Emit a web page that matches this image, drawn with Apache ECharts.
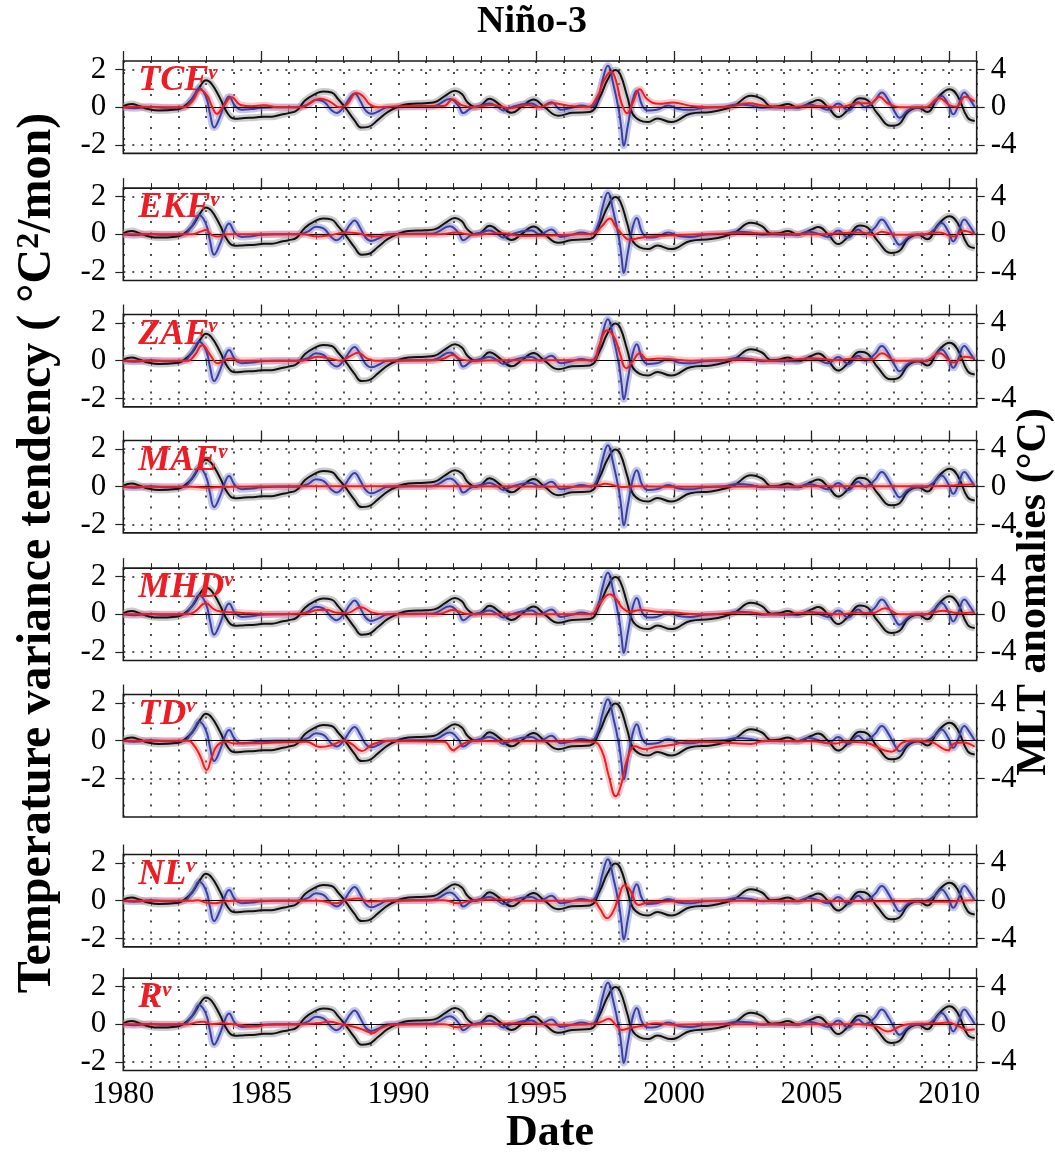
<!DOCTYPE html>
<html>
<head>
<meta charset="utf-8">
<script src="https://cdn.jsdelivr.net/npm/echarts@6/dist/echarts.min.js"></script>
<style>
html,body{margin:0;padding:0;background:#fff;}
#chart{width:1055px;height:1161px;}
</style>
</head>
<body>
<div id="chart"></div>
<script>
// ---- data ---------------------------------------------------------------
const panelNames = ['TCF', 'EKF', 'ZAF', 'MAE', 'MHD', 'TD', 'NL', 'R'];
const yearLabels = [1980, 1985, 1990, 1995, 2000, 2005, 2010];
const leftTicks = [-2, 0, 2];
const rightTicks = [-4, 0, 4];

// MLT temperature anomaly (°C, right axis) — [year, value]
const mltAnomaly = [
  [1980.0,0.1],[1980.3,0.35],[1980.6,0.1],[1980.9,-0.2],[1981.3,-0.35],[1981.9,-0.25],[1982.15,-0.05],
  [1982.5,0.87],[1982.8,2.26],[1983.0,2.85],[1983.2,2.5],[1983.5,1.04],[1983.8,-0.7],[1984.05,-1.22],
  [1984.4,-1.15],[1984.8,-1.1],[1985.1,-1.0],[1985.4,-1.0],[1985.75,-0.77],[1986.0,-0.63],[1986.3,-0.35],
  [1986.6,0.7],[1986.96,1.39],[1987.26,1.67],[1987.57,1.56],[1987.8,0.87],[1988.05,0.0],[1988.4,-1.39],
  [1988.65,-2.16],[1988.9,-2.09],[1989.26,-1.32],[1989.6,-0.52],[1990.0,0.07],[1990.35,0.35],[1990.96,0.42],
  [1991.3,0.52],[1991.7,1.22],[1992.05,1.74],[1992.3,1.39],[1992.5,0.52],[1992.8,0.0],[1993.0,0.2],
  [1993.3,0.9],[1993.7,0.2],[1994.1,-0.6],[1994.5,0.1],[1994.9,0.83],[1995.3,0.0],[1995.8,-0.9],
  [1996.3,-0.6],[1996.95,-0.5],[1997.3,1.0],[1997.6,2.96],[1997.87,3.95],[1998.05,3.5],[1998.3,1.2],
  [1998.5,-0.7],[1998.76,-1.39],[1999.06,-1.57],[1999.4,-1.2],[1999.9,-1.57],[2000.1,-1.45],[2000.6,-0.7],
  [2001.35,-0.5],[2001.85,-0.2],[2002.2,0.17],[2002.8,1.22],[2003.2,0.87],[2003.55,0.05],[2003.8,0.1],
  [2004.15,0.35],[2004.5,-0.05],[2005.0,0.52],[2005.25,0.77],[2005.6,0.0],[2005.97,-1.04],[2006.3,-0.35],
  [2006.76,0.94],[2007.05,0.7],[2007.4,-0.7],[2007.9,-1.98],[2008.2,-1.75],[2008.5,-0.5],[2008.87,-0.05],
  [2009.2,-0.52],[2009.6,1.04],[2010.02,1.91],[2010.3,1.22],[2010.67,-1.11],[2010.93,-1.46]
];

// total temperature variance tendency (°C²/mon, left axis)
const totalTendency = [
  [1980.0,0],[1980.4,-0.05],[1981.0,0.02],[1981.5,-0.03],[1982.2,0.0],[1982.45,0.35],[1982.6,0.7],
  [1982.75,1.02],[1982.9,0.85],[1983.05,0.35],[1983.15,-0.35],[1983.3,-1.08],[1983.5,-0.55],[1983.7,0.26],
  [1983.84,0.57],[1984.05,0.09],[1984.3,-0.14],[1984.66,-0.1],[1985.0,-0.03],[1985.5,0.0],[1986.3,0.0],
  [1986.7,0.14],[1987.0,0.4],[1987.27,0.31],[1987.57,-0.17],[1987.75,-0.31],[1988.0,0.0],[1988.24,0.52],
  [1988.4,0.73],[1988.6,0.35],[1988.8,-0.17],[1989.0,-0.35],[1989.3,-0.2],[1989.6,0.0],[1990.5,0.03],
  [1991.2,0.03],[1991.44,0.14],[1991.86,0.43],[1992.17,0.09],[1992.35,-0.31],[1992.65,-0.03],[1993.0,0.09],
  [1993.3,0.2],[1993.6,0.0],[1993.8,-0.17],[1994.05,-0.03],[1994.45,0.15],[1994.83,0.2],[1995.13,0.0],
  [1995.55,0.26],[1995.9,-0.14],[1996.28,-0.03],[1996.64,0.09],[1997.0,0.0],[1997.25,0.52],[1997.4,1.39],
  [1997.6,2.2],[1997.8,1.22],[1998.0,-0.17],[1998.1,-1.22],[1998.18,-2.05],[1998.32,-1.04],[1998.5,0.35],
  [1998.65,0.87],[1998.85,0.09],[1999.06,-0.17],[1999.37,-0.14],[1999.8,0.09],[2000.16,-0.09],[2000.6,-0.14],
  [2001.1,-0.03],[2001.85,0.03],[2002.3,0.14],[2002.8,0.09],[2003.2,-0.03],[2003.55,0.0],[2004.0,-0.03],
  [2004.45,-0.03],[2004.88,0.14],[2005.25,0.03],[2005.6,-0.14],[2005.97,0.2],[2006.33,-0.17],[2006.7,0.26],
  [2006.94,0.0],[2007.3,0.35],[2007.55,0.78],[2007.8,0.35],[2008.03,-0.26],[2008.2,-0.56],[2008.5,-0.17],
  [2008.76,-0.03],[2009.1,-0.03],[2009.47,0.26],[2009.72,0.6],[2009.97,0.14],[2010.15,-0.38],[2010.33,0.09],
  [2010.55,0.78],[2010.75,0.43],[2010.93,0.0]
];

// individual budget terms (°C²/mon, left axis)
const tcfTerm = [
  [1980.0,0],[1980.5,0.03],[1981.5,0],[1982.2,0.0],[1982.5,0.3],[1982.8,0.93],[1983.05,0.6],[1983.22,0.05],
  [1983.4,-0.35],[1983.64,0.05],[1983.94,0.53],[1984.26,0.12],[1984.68,0.05],[1985.1,0.1],[1985.6,0],
  [1986.5,0],[1986.76,0.2],[1987.14,0.45],[1987.5,0.3],[1987.85,0],[1988.1,0.1],[1988.48,0.75],
  [1988.7,0.6],[1988.95,0.15],[1989.26,0],[1990.4,0.07],[1991.65,0.07],[1991.96,0.42],[1992.27,0.12],
  [1992.7,0],[1993.4,0.12],[1994.04,-0.05],[1994.67,0.12],[1995.1,0.0],[1995.6,0.21],[1996.2,0.07],
  [1996.85,0],[1997.22,0.56],[1997.47,1.44],[1997.72,1.88],[1997.89,1.44],[1998.1,0.21],[1998.3,-0.32],
  [1998.5,0.21],[1998.76,0.95],[1999.03,0.42],[1999.45,0.18],[1999.97,0.25],[2000.6,0.07],[2001.2,0],
  [2002.05,0.03],[2002.7,0.21],[2003.3,0.07],[2004.0,0],[2005.17,0.07],[2006.0,0],[2006.73,0.21],
  [2007.15,0.21],[2007.46,0.56],[2007.77,0.21],[2008.2,0],[2009.12,0],[2009.64,0.47],[2010.06,0.07],
  [2010.27,0.03],[2010.58,0.56],[2010.93,0.3]
];
const ekfTerm = [
  [1980.0,0],[1982.5,0],[1982.8,0.14],[1983.0,0.23],[1983.2,-0.03],[1983.43,-0.12],[1983.8,0],[1986.5,0],
  [1987.07,-0.12],[1987.5,-0.05],[1988.1,0.09],[1988.5,0.05],[1989.15,-0.12],[1989.57,-0.05],[1990.0,0],
  [1991.5,0],[1992.07,0.09],[1992.7,-0.03],[1993.7,0.05],[1994.56,-0.09],[1995.8,-0.05],[1996.5,0],
  [1997.06,0.02],[1997.37,0.4],[1997.68,0.84],[1997.89,0.4],[1998.14,-0.03],[1998.4,-0.3],[1998.72,-0.2],
  [1999.1,-0.12],[1999.97,-0.05],[2001.0,0],[2002.7,0.05],[2005.0,0],[2006.8,0.09],[2007.25,-0.03],
  [2007.55,0.14],[2008.07,-0.03],[2009.0,0],[2009.64,0.09],[2010.16,-0.12],[2010.5,0.19],[2010.93,0]
];
const zafTerm = [
  [1980.0,0],[1982.35,0],[1982.6,0.3],[1982.87,0.82],[1983.16,0.3],[1983.43,-0.14],[1983.64,0],[1983.9,0.12],
  [1984.26,0],[1986.5,0],[1987.07,0.21],[1987.5,0.12],[1987.9,0],[1988.2,0.21],[1988.53,0.42],[1988.85,0.12],
  [1989.15,0],[1991.3,0.02],[1991.65,0.12],[1991.96,0.3],[1992.27,0.07],[1992.7,0],[1993.7,0.03],
  [1997.06,0.03],[1997.27,0.74],[1997.58,1.61],[1997.83,1.25],[1998.04,0.39],[1998.27,-0.4],[1998.5,-0.05],
  [1998.76,0.39],[1999.03,0.07],[1999.45,0.12],[1999.97,0.07],[2000.6,0],[2002.7,0.07],[2003.5,0],
  [2005.17,0.12],[2005.8,0.03],[2006.73,0.12],[2007.2,0.05],[2007.55,0.39],[2008.07,0],[2009.12,0],
  [2009.64,0.39],[2010.16,-0.1],[2010.58,0.21],[2010.93,0.12]
];
const maeTerm = [
  [1980.0,0],[1982.5,0],[1983.0,-0.05],[1983.4,-0.03],[1984.0,0],[1988.0,0.02],[1992.0,0.02],[1996.5,0],
  [1997.2,0.05],[1997.5,0.15],[1997.8,0.08],[1998.1,-0.02],[1998.6,0.02],[2000.0,0],[2005.0,0.02],
  [2009.0,0.02],[2010.0,0.05],[2010.8,0.12],[2010.93,0.1]
];
const mhdTerm = [
  [1980.0,0],[1982.35,0],[1982.6,0.14],[1983.0,0.58],[1983.33,0.23],[1983.64,0.14],[1984.05,0.09],
  [1984.58,0.05],[1985.4,0],[1986.6,0.05],[1987.07,0.23],[1987.4,0.23],[1987.7,0.09],[1988.1,0.05],
  [1988.63,0.37],[1989.05,0.09],[1989.57,0],[1991.5,0.03],[1991.96,0.23],[1992.48,0.02],[1993.0,0],
  [1997.0,0],[1997.27,0.5],[1997.68,1.07],[1997.89,0.84],[1998.14,0.32],[1998.4,0.14],[1998.8,0.23],
  [1999.35,0.14],[1999.97,0.09],[2001.0,0],[2002.7,0.09],[2003.5,0],[2005.17,0.09],[2006.0,0],
  [2006.73,0.09],[2007.2,0.05],[2007.67,0.32],[2008.2,0],[2009.2,0.02],[2009.75,0.19],[2010.37,0.05],
  [2010.8,0.09],[2010.93,0.05]
];
const tdTerm = [
  [1980.0,0],[1982.35,0],[1982.6,-0.32],[1982.8,-0.84],[1983.03,-1.55],[1983.22,-0.84],[1983.43,-0.23],
  [1983.74,-0.05],[1984.05,-0.15],[1984.58,-0.14],[1985.2,-0.12],[1985.82,-0.08],[1986.66,-0.05],
  [1987.14,-0.34],[1987.6,-0.23],[1988.0,0],[1988.32,-0.2],[1988.66,-0.55],[1989.05,-0.2],[1989.57,-0.02],
  [1991.65,-0.05],[1991.98,-0.5],[1992.27,-0.23],[1992.7,0],[1993.5,-0.03],[1995.0,-0.03],[1997.06,-0.05],
  [1997.37,-0.49],[1997.64,-1.9],[1997.89,-2.95],[1998.1,-2.25],[1998.3,-1.0],[1998.6,-0.3],[1998.93,-0.45],
  [1999.35,-0.33],[1999.97,-0.22],[2000.5,-0.05],[2001.0,-0.05],[2002.8,-0.17],[2003.3,0],[2005.0,-0.03],
  [2005.85,-0.15],[2006.2,-0.05],[2006.9,-0.1],[2007.9,-0.58],[2008.3,-0.1],[2008.6,0],[2009.3,-0.05],
  [2009.95,-0.5],[2010.2,-0.14],[2010.5,-0.1],[2010.93,-0.32]
];
const nlTerm = [
  [1980.0,0],[1982.5,0],[1982.7,0.03],[1983.0,-0.1],[1983.33,-0.14],[1983.64,-0.05],[1984.0,0],[1987.07,0],
  [1987.7,-0.14],[1988.1,0.03],[1988.53,0.12],[1988.95,-0.05],[1989.5,0],[1991.65,0.03],[1992.17,-0.14],
  [1992.6,0],[1993.7,0.07],[1994.5,0],[1997.06,0],[1997.3,-0.4],[1997.58,-0.93],[1997.79,-0.58],
  [1998.0,0.2],[1998.2,0.82],[1998.41,0.56],[1998.72,-0.23],[1999.03,-0.1],[1999.55,-0.05],[2001.0,0],
  [2005.0,0],[2009.96,-0.05],[2010.37,0],[2010.93,0.03]
];
const rTerm = [
  [1980.0,0],[1982.4,0],[1982.5,0.05],[1982.9,0.14],[1983.22,0],[1983.54,0.05],[1984.16,-0.03],
  [1984.8,-0.12],[1985.2,-0.03],[1986.5,0],[1987.07,0.05],[1987.5,0.14],[1987.9,0],[1988.32,-0.12],
  [1988.74,-0.3],[1989.05,-0.47],[1989.36,-0.2],[1989.78,-0.03],[1991.65,0],[1992.17,-0.16],[1992.6,-0.03],
  [1994.56,0.05],[1995.8,-0.03],[1997.06,0.02],[1997.37,0.14],[1997.64,0.3],[1997.89,-0.03],[1998.1,-0.3],
  [1998.4,-0.2],[1998.8,-0.09],[1999.35,0.05],[1999.97,-0.03],[2001.0,0],[2006.73,0],[2007.36,-0.12],
  [2007.77,-0.38],[2008.2,-0.12],[2008.5,0],[2009.54,0.05],[2009.96,0.09],[2010.37,-0.12],[2010.68,-0.3],
  [2010.93,-0.26]
];
const termSeries = [tcfTerm, ekfTerm, zafTerm, maeTerm, mhdTerm, tdTerm, nlTerm, rTerm];

// ---- layout & style -----------------------------------------------------
const FONT = '"Liberation Serif","Times New Roman",serif';
const PX_PER_UNIT = 18.85;
const GRID_LEFT = 123.3, GRID_RIGHT = 78.3;
const zeroY = [107.2, 234.3, 360.7, 486.7, 614.3, 740.7, 900.7, 1024.3];
const leftExtent = panelNames.map(n => n === 'TD' ? [-4.05, 2.45] : [-2.45, 2.45]);

const C_BLACK = '#111111', C_BLUE = '#3b3f9e', C_RED = '#ee1c24';
const B_BLACK = '#8c8c8c', B_BLUE = '#7c82d4', B_RED = '#f08a8a';
const DOT_H = [2, 7], DOT_V = [2, 9];
const TICK_FONT = 31;

const grids = [], xAxes = [], yAxes = [], series = [], graphics = [];
const last = panelNames.length - 1;

panelNames.forEach((name, i) => {
  const [ymin, ymax] = leftExtent[i];
  const top = zeroY[i] - ymax * PX_PER_UNIT;
  const height = (ymax - ymin) * PX_PER_UNIT;
  grids.push({left: GRID_LEFT, right: GRID_RIGHT, top, height, show: true,
    borderColor: '#1a1a1a', borderWidth: 1.6, backgroundColor: 'transparent'});

  const baseX = {type: 'value', gridIndex: i, min: 1980, max: 2011, axisLine: {show: false},
    splitLine: {show: false}, axisLabel: {show: false}};
  // yearly minor ticks (bottom) + vertical dotted grid
  xAxes.push(Object.assign({}, baseX, {position: 'bottom', interval: 1,
    axisTick: {show: true, inside: false, length: 5, lineStyle: {color: '#222', width: 1}},
    splitLine: {show: true, lineStyle: {color: '#222', width: 1.6, type: DOT_V}},
    axisLabel: i === last ? {show: true, interval: 0, margin: 9, fontSize: TICK_FONT, fontFamily: FONT, color: '#000',
      formatter: v => yearLabels.includes(v) ? String(v) : ''} : {show: false}}));
  // five-year major ticks (bottom)
  xAxes.push(Object.assign({}, baseX, {position: 'bottom', interval: 5,
    axisTick: {show: true, inside: false, length: 10, lineStyle: {color: '#222', width: 1.3}}}));
  // yearly ticks (top)
  xAxes.push(Object.assign({}, baseX, {position: 'top', interval: 1,
    axisTick: {show: true, inside: false, length: 5, lineStyle: {color: '#222', width: 1}}}));
  // five-year ticks (top)
  xAxes.push(Object.assign({}, baseX, {position: 'top', interval: 5,
    axisTick: {show: true, inside: false, length: 10, lineStyle: {color: '#222', width: 1.3}}}));

  yAxes.push({type: 'value', gridIndex: i, position: 'left', min: ymin, max: ymax,
    axisLine: {show: false}, splitLine: {show: false},
    axisTick: {show: true, inside: false, length: 8, customValues: leftTicks, lineStyle: {color: '#222', width: 1.2}},
    axisLabel: {show: true, customValues: leftTicks, margin: 17, fontSize: TICK_FONT, fontFamily: FONT, color: '#000'}});
  yAxes.push({type: 'value', gridIndex: i, position: 'right', min: ymin * 2, max: ymax * 2,
    axisLine: {show: false}, splitLine: {show: false},
    axisTick: {show: true, inside: false, length: 8, customValues: rightTicks, lineStyle: {color: '#222', width: 1.2}},
    axisLabel: {show: true, customValues: rightTicks, margin: 14, fontSize: TICK_FONT, fontFamily: FONT, color: '#000'}});

  const xi = i * 4, yl = i * 2, yr = i * 2 + 1;
  const mk = (data, yIdx, color, width, opacity, z, extra) => Object.assign({
    type: 'line', xAxisIndex: xi, yAxisIndex: yIdx, data, smooth: 0.45, showSymbol: false, symbol: 'none',
    silent: true, z, lineStyle: {color, width, opacity}, itemStyle: {color}
  }, extra || {});

  // reference lines: dotted at ±2, solid at zero
  series.push(mk([], yl, '#000', 1, 1, 1, {markLine: {silent: true, symbol: 'none', animation: false,
    label: {show: false},
    data: [
      {yAxis: 2, lineStyle: {color: '#222', width: 1.6, type: DOT_H}},
      {yAxis: -2, lineStyle: {color: '#222', width: 1.6, type: DOT_H}},
      {yAxis: 0, lineStyle: {color: '#000', width: 1.2, type: 'solid'}}
    ]}}));
  // shaded spread bands
  series.push(mk(mltAnomaly, yr, B_BLACK, 7, 0.45, 2));
  series.push(mk(totalTendency, yl, B_BLUE, 7, 0.45, 2));
  series.push(mk(termSeries[i], yl, B_RED, 7, 0.45, 2));
  // central curves
  series.push(mk(mltAnomaly, yr, C_BLACK, 2, 1, 3));
  series.push(mk(totalTendency, yl, C_BLUE, 2, 1, 4));
  series.push(mk(termSeries[i], yl, C_RED, 2, 1, 5));

  graphics.push({type: 'text', x: GRID_LEFT + 15, y: top + 2, z: 100, silent: true,
    style: {text: '{m|' + name + '}{s|v}', align: 'left', verticalAlign: 'top',
      textAlign: 'left', textVerticalAlign: 'top',
      rich: {
        m: {fontSize: 36, fontStyle: 'italic', fontWeight: 'bold', fontFamily: FONT, fill: C_RED, color: C_RED},
        s: {fontSize: 21, fontStyle: 'italic', fontWeight: 'bold', fontFamily: FONT, fill: C_RED, color: C_RED,
            lineHeight: 1, verticalAlign: 'top'}
      }}});
});

graphics.push({type: 'text', x: 532, y: 22, silent: true,
  style: {text: 'Niño-3', fontSize: 38, fontWeight: 'bold', fontFamily: FONT, fill: '#000',
    align: 'center', verticalAlign: 'middle', textAlign: 'center', textVerticalAlign: 'middle'}});
graphics.push({type: 'text', x: 550, y: 1134, silent: true,
  style: {text: 'Date', fontSize: 44, fontWeight: 'bold', fontFamily: FONT, fill: '#000',
    align: 'center', verticalAlign: 'middle', textAlign: 'center', textVerticalAlign: 'middle'}});
graphics.push({type: 'text', x: 38, y: 553, rotation: Math.PI / 2, silent: true,
  style: {text: '{a|Temperature variance tendency ( °C}{b|2}{a|/mon)}',
    align: 'center', verticalAlign: 'middle', textAlign: 'center', textVerticalAlign: 'middle',
    rich: {
      a: {fontSize: 48, fontWeight: 'bold', fontFamily: FONT, fill: '#000', color: '#000'},
      b: {fontSize: 32, fontWeight: 'bold', fontFamily: FONT, fill: '#000', color: '#000', lineHeight: 12, verticalAlign: 'top'}
    }}});
graphics.push({type: 'text', x: 1034, y: 592, rotation: Math.PI / 2, silent: true,
  style: {text: 'MLT anomalies (°C)', fontSize: 42, fontWeight: 'bold', fontFamily: FONT, fill: '#000',
    align: 'center', verticalAlign: 'middle', textAlign: 'center', textVerticalAlign: 'middle'}});

const chart = echarts.init(document.getElementById('chart'));
chart.setOption({
  animation: false,
  backgroundColor: '#fff',
  grid: grids,
  xAxis: xAxes,
  yAxis: yAxes,
  series,
  graphic: graphics
});
</script>
</body>
</html>
